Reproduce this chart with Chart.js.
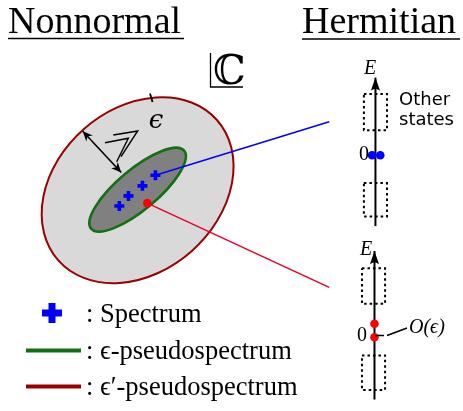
<!DOCTYPE html>
<html><head><meta charset="utf-8">
<script src="https://cdn.jsdelivr.net/npm/chart.js@4/dist/chart.umd.min.js"></script>
<style>html,body{margin:0;padding:0;background:#fff;overflow:hidden}canvas{display:block}</style>
</head><body>
<canvas id="c" width="463" height="411" style="width:463px;height:411px"></canvas>
<script>
// ---- diagram data (units = picture units, 463 x 411 plane) ----
const spectrumX = [115, 124.5, 139, 152.5];
const spectrumY = [206, 195.5, 185, 174];
const chosenX = [144];
const chosenY = [203];
const hermBlueX = [377.5, 386];
const hermBlueY = [153, 153];
const hermRedX = [380, 380];
const hermRedY = [329, 343];
const blueLinkX = [152.5, 333];
const blueLinkY = [174, 118];
const redLinkX = [144, 333];
const redLinkY = [203, 291];
const axisTopX = [381, 381];
const axisTopY = [227, 72];
const axisBotX = [380, 380];
const axisBotY = [408, 253];
const boxLeft = [369, 369, 367, 367];
const boxRight = [393, 393, 391, 391];
const boxTop = [89, 182, 271, 362];
const boxBottom = [127, 217, 308, 398];
const gapArrowX = [77, 117];
const gapArrowY = [128, 171];
const ellipseCX = [134, 134];
const ellipseCY = [189.5, 189];
const ellipseA = [110, 63];
const ellipseB = [85, 21];
const ellipseAngle = [-41.5, -40];
const ellipseFill = ['#d9d9d9', '#808080'];
const ellipseStroke = ['#9b0000', '#117011'];
const legendLabels = [': Spectrum', ': \u03F5-pseudospectrum', ': \u03F5\u2032-pseudospectrum'];

const BLUE = '#0000ff', RED = '#ff0000';
const pts = (xs, ys) => xs.map((x, i) => ({x, y: ys[i]}));
const boxPts = i => [
  {x: boxLeft[i], y: boxTop[i]}, {x: boxRight[i], y: boxTop[i]},
  {x: boxRight[i], y: boxBottom[i]}, {x: boxLeft[i], y: boxBottom[i]},
  {x: boxLeft[i], y: boxTop[i]}
];

const datasets = [
  {type: 'scatter', data: pts(spectrumX, spectrumY), pointStyle: 'cross', pointRadius: 5,
   borderColor: BLUE, borderWidth: 3.6, order: 0},
  {type: 'scatter', data: pts(chosenX, chosenY), pointStyle: 'circle', pointRadius: 4.3,
   backgroundColor: RED, borderWidth: 0, order: 0},
  {type: 'scatter', data: pts(hermBlueX, hermBlueY), pointStyle: 'circle', pointRadius: 4.3,
   backgroundColor: BLUE, borderWidth: 0, order: 0},
  {type: 'scatter', data: pts(hermRedX, hermRedY), pointStyle: 'circle', pointRadius: 4.3,
   backgroundColor: RED, borderWidth: 0, order: 0},
  {type: 'line', data: pts(blueLinkX, blueLinkY), borderColor: BLUE, borderWidth: 1.5, pointRadius: 0, order: 2},
  {type: 'line', data: pts(redLinkX, redLinkY), borderColor: '#e8002a', borderWidth: 1.5, pointRadius: 0, order: 2},
  {type: 'line', data: pts(axisTopX, axisTopY), borderColor: '#000', borderWidth: 2, pointRadius: 0, order: 3},
  {type: 'line', data: pts(axisBotX, axisBotY), borderColor: '#000', borderWidth: 2, pointRadius: 0, order: 3},
  {type: 'line', data: pts(gapArrowX, gapArrowY), borderColor: '#000', borderWidth: 1.6, pointRadius: 0, order: 3},
];
for (let i = 0; i < boxLeft.length; i++) {
  datasets.push({type: 'line', data: boxPts(i), borderColor: '#000', borderWidth: 2,
    borderDash: [2.5, 3], pointRadius: 0, order: 4});
}
datasets.forEach(d => { d.clip = false; d.tension = 0; });

function arrowHead(ctx, x0, y0, x1, y1, len, half, notch) {
  const a = Math.atan2(y1 - y0, x1 - x0);
  ctx.save();
  ctx.translate(x1, y1);
  ctx.rotate(a);
  ctx.beginPath();
  ctx.moveTo(0, 0);
  ctx.lineTo(-len, -half);
  ctx.lineTo(-len + notch, 0);
  ctx.lineTo(-len, half);
  ctx.closePath();
  ctx.fillStyle = '#000';
  ctx.fill();
  ctx.restore();
}

const drawPlugin = {
  id: 'diagram',
  beforeDatasetsDraw(chart) {
    const ctx = chart.ctx, sx = chart.scales.x, sy = chart.scales.y;
    for (let i = 0; i < ellipseCX.length; i++) {
      const cx = sx.getPixelForValue(ellipseCX[i]);
      const cy = sy.getPixelForValue(ellipseCY[i]);
      const rx = sx.getPixelForValue(ellipseCX[i] + ellipseA[i]) - cx;
      const ry = sy.getPixelForValue(ellipseCY[i] + ellipseB[i]) - cy;
      ctx.save();
      ctx.beginPath();
      ctx.ellipse(cx, cy, Math.abs(rx), Math.abs(ry), ellipseAngle[i] * Math.PI / 180, 0, 2 * Math.PI);
      ctx.fillStyle = ellipseFill[i];
      ctx.fill();
      ctx.lineWidth = i === 0 ? 2 : 2.6;
      ctx.strokeStyle = ellipseStroke[i];
      ctx.stroke();
      ctx.restore();
    }
  },
  afterDatasetsDraw(chart) {
    const ctx = chart.ctx, sx = chart.scales.x, sy = chart.scales.y;
    const X = v => sx.getPixelForValue(v), Y = v => sy.getPixelForValue(v);
    // arrow heads
    arrowHead(ctx, X(axisTopX[0]), Y(axisTopY[0]), X(axisTopX[1]), Y(axisTopY[1]), 13, 4.5, 2);
    arrowHead(ctx, X(axisBotX[0]), Y(axisBotY[0]), X(axisBotX[1]), Y(axisBotY[1]), 13, 4.5, 2);
    arrowHead(ctx, X(gapArrowX[0]), Y(gapArrowY[0]), X(gapArrowX[1]), Y(gapArrowY[1]), 10, 4.5, 3);
    arrowHead(ctx, X(gapArrowX[1]), Y(gapArrowY[1]), X(gapArrowX[0]), Y(gapArrowY[0]), 10, 4.5, 3);

    ctx.save();
    ctx.fillStyle = '#000';
    ctx.strokeStyle = '#000';
    ctx.textBaseline = 'alphabetic';
    // titles
    ctx.font = '38px "Liberation Serif", serif';
    ctx.textAlign = 'left';
    ctx.fillText('Nonnormal', 8, 33);
    ctx.fillText('Hermitian', 302, 33);
    ctx.lineWidth = 1.5;
    ctx.beginPath();
    ctx.moveTo(8, 38.5); ctx.lineTo(184, 38.5);
    ctx.moveTo(302, 39); ctx.lineTo(460, 39);
    ctx.stroke();
    // complex plane symbol
    ctx.font = '41px "DejaVu Serif", serif';
    ctx.fillText('\u2102', 213, 84);
    ctx.lineWidth = 1.3;
    ctx.beginPath();
    ctx.moveTo(210.5, 53); ctx.lineTo(210.5, 87); ctx.lineTo(243, 87);
    ctx.stroke();
    // epsilon prime label
    ctx.font = 'italic 26px "DejaVu Serif", serif';
    ctx.textAlign = 'center';
    ctx.fillText('\u03F5', 156, 128);
    ctx.lineWidth = 1.8;
    ctx.beginPath();
    ctx.moveTo(150, 93.5); ctx.lineTo(152.5, 102);
    ctx.stroke();
    // much-greater sign (drawn as two thin chevrons, as in the figure)
    ctx.lineWidth = 1.4;
    ctx.beginPath();
    ctx.moveTo(113.3, 135); ctx.lineTo(137.7, 131); ctx.lineTo(121, 156.7);
    ctx.moveTo(105, 142.7); ctx.lineTo(128.3, 138.3); ctx.lineTo(116.7, 161.7);
    ctx.stroke();
    // right panel labels
    ctx.font = 'italic 20px "Liberation Serif", serif';
    ctx.textAlign = 'center';
    ctx.fillText('E', 370, 74);
    ctx.fillText('E', 366, 255);
    ctx.font = '20px "Liberation Serif", serif';
    ctx.fillText('0', 364, 160);
    ctx.fillText('0', 362, 341);
    ctx.font = '18px "DejaVu Sans", sans-serif';
    ctx.textAlign = 'left';
    ctx.fillText('Other', 399, 105);
    ctx.fillText('states', 399, 125);
    ctx.font = 'italic 20px "Liberation Serif", serif';
    ctx.fillText('O(\u03F5)', 409, 333);
    ctx.lineWidth = 1.5;
    ctx.beginPath();
    ctx.moveTo(375, 335.5); ctx.lineTo(384, 335.5);
    ctx.moveTo(387, 335.5); ctx.lineTo(407, 328);
    ctx.stroke();
    // legend
    ctx.fillStyle = BLUE;
    ctx.fillRect(42, 309.5, 20, 7);
    ctx.fillRect(48.5, 303, 7, 20);
    ctx.lineWidth = 4;
    ctx.strokeStyle = ellipseStroke[1];
    ctx.beginPath(); ctx.moveTo(26, 350.5); ctx.lineTo(81, 350.5); ctx.stroke();
    ctx.strokeStyle = ellipseStroke[0];
    ctx.beginPath(); ctx.moveTo(26, 386.5); ctx.lineTo(81, 386.5); ctx.stroke();
    ctx.fillStyle = '#000';
    ctx.font = '26.5px "Liberation Serif", serif';
    ctx.fillText(legendLabels[0], 86, 322);
    ctx.fillText(legendLabels[1], 86, 359);
    ctx.fillText(legendLabels[2], 86, 395);
    ctx.restore();
  }
};

new Chart(document.getElementById('c'), {
  data: {datasets},
  options: {
    responsive: false,
    devicePixelRatio: 1,
    animation: false,
    events: [],
    layout: {padding: 0},
    plugins: {legend: {display: false}, tooltip: {enabled: false}, title: {display: false}},
    scales: {
      x: {type: 'linear', min: 0, max: 463, display: false},
      y: {type: 'linear', min: 0, max: 411, reverse: true, display: false}
    }
  },
  plugins: [drawPlugin]
});
</script>
</body></html>
